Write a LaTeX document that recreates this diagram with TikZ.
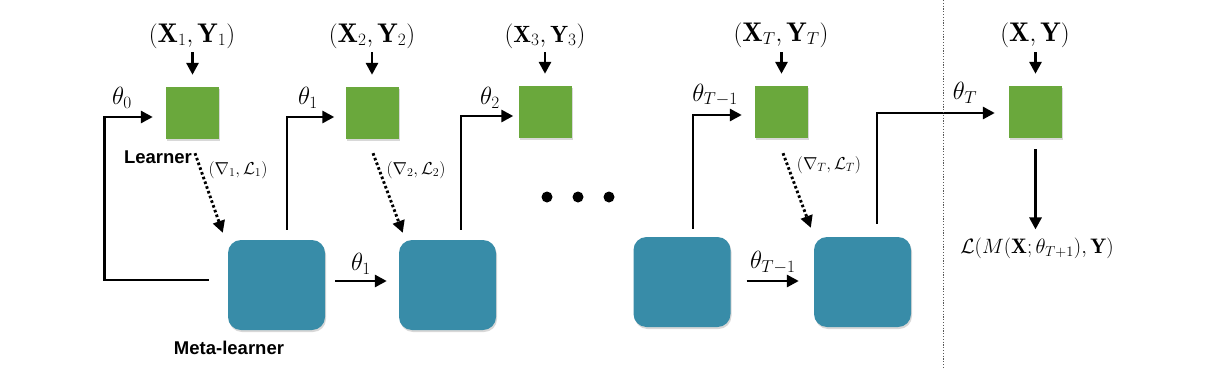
\documentclass[tikz,border=0pt]{standalone}
\usepackage{fontspec}
\newfontfamily\labfont{Liberation Sans}
\usetikzlibrary{arrows.meta,shadows}
\definecolor{lgreen}{RGB}{106,168,60}
\definecolor{mblue}{RGB}{56,140,168}
\begin{document}
\begin{tikzpicture}[x=1pt,y=-1pt,
  learner/.style={fill=lgreen, minimum width=53pt, minimum height=52pt, inner sep=0pt,
    drop shadow={shadow xshift=1pt, shadow yshift=-2pt, opacity=0.3, fill=gray}},
  meta/.style={fill=mblue, rounded corners=13pt, minimum width=97pt, minimum height=90pt, inner sep=0pt,
    drop shadow={shadow xshift=1pt, shadow yshift=-2pt, opacity=0.3, fill=gray}},
  tip/.style={-{Triangle[length=12pt,width=12pt]}},
  arr/.style={line width=2.9pt, tip},
  dotarr/.style={line width=2.9pt, dash pattern=on 2.6pt off 2.4pt, tip},
  big/.style={inner sep=0pt, font=\fontsize{27}{32}\selectfont},
  mid/.style={inner sep=0pt, font=\fontsize{23.5}{28}\selectfont},
  res/.style={inner sep=0pt, font=\fontsize{21}{25}\selectfont},
  small/.style={inner sep=0pt, font=\fontsize{17}{20}\selectfont},
  sans/.style={inner sep=0pt, font=\labfont\bfseries\fontsize{18.5}{22}\selectfont},
  dot/.style={circle, fill=black, minimum size=11pt, inner sep=0pt}
]
\fill[white] (0,0) rectangle (1220,367);
\useasboundingbox (0,0) rectangle (1220,367);

% learners
\node[learner] (l1) at (192.5,113) {};
\node[learner] (l2) at (372,113) {};
\node[learner] (l3) at (545,112) {};
\node[learner] (lT) at (781.5,112) {};
\node[learner] (lF) at (1035.5,112) {};

% meta-learners
\node[meta] (m1) at (276.5,285) {};
\node[meta] (m2) at (447.5,285) {};
\node[meta] (m3) at (682,282) {};
\node[meta] (mT) at (862.5,282) {};

% data labels
\node[big] (d1) at (192,36) {$(\mathbf{X}_1,\mathbf{Y}_1)$};
\node[big] (d2) at (372,36) {$(\mathbf{X}_2,\mathbf{Y}_2)$};
\node[mid] (d3) at (545,36) {$(\mathbf{X}_3,\mathbf{Y}_3)$};
\node[big] (dT) at (781,35) {$(\mathbf{X}_T,\mathbf{Y}_T)$};
\node[big] (dF) at (1035,35) {$(\mathbf{X},\mathbf{Y})$};
\foreach \d/\l in {d1/l1,d2/l2,d3/l3,dT/lT,dF/lF}{
  \draw[arr] (\l.north |- 0,52) -- ([yshift=12pt]\l.north);
}

% theta labels
\node[big] (t0) at (122,98) {$\theta_0$};
\node[big] (t1) at (308,98) {$\theta_1$};
\node[big] (t2) at (490,98) {$\theta_2$};
\node[big] (tT1) at (715,95) {$\theta_{T-1}$};
\node[big] (tT) at (965,93) {$\theta_T$};

% loop from first meta-learner
\draw[arr] ([xshift=-19pt,yshift=5pt]m1.west) -- ++(-104,0) |- ([xshift=-13pt,yshift=-4pt]l1.west);
% meta -> next learner
\draw[arr] ([xshift=10.5pt,yshift=10pt]m1.north) |- ([xshift=-11pt,yshift=-4pt]l2.west);
\draw[arr] ([xshift=13.5pt,yshift=10pt]m2.north) |- ([xshift=-5pt,yshift=-4pt]l3.west);
\draw[arr] ([xshift=11pt,yshift=8pt]m3.north) |- ([xshift=-13pt,yshift=-3pt]lT.west);
\draw[arr] ([xshift=14.5pt,yshift=13pt]mT.north) |- ([xshift=-14pt,yshift=-1pt]lF.west);

% meta -> meta
\draw[arr] ([xshift=10pt,yshift=4pt]m1.east) -- ([xshift=-12pt,yshift=4pt]m2.west)
  node[midway, above=5pt, big] (tm1) {$\theta_1$};
\draw[arr] ([xshift=16pt,yshift=1pt]m3.east) -- ([xshift=-15pt,yshift=1pt]mT.west)
  node[midway, above=6pt, big] (tm2) {$\theta_{T-1}$};

% gradient dotted arrows
\draw[dotarr] ([xshift=2.5pt,yshift=-14pt]l1.south) -- ([xshift=-5pt,yshift=7pt]m1.north west);
\draw[dotarr] ([xshift=1pt,yshift=-14pt]l2.south) -- ([xshift=4pt,yshift=7pt]m2.north west);
\draw[dotarr] ([xshift=1.5pt,yshift=-15pt]lT.south) -- ([xshift=-3pt,yshift=9pt]mT.north west);
\node[small] (g1) at (238,170) {$(\nabla_1,\mathcal{L}_1)$};
\node[small] (g2) at (416,170) {$(\nabla_2,\mathcal{L}_2)$};
\node[small] (gT) at (829,165) {$(\nabla_T,\mathcal{L}_T)$};

% text labels
\node[sans] (lab1) at (158,157) {Learner};
\node[sans] (lab2) at (229,348) {Meta-learner};

% ellipsis dots
\node[dot] (e1) at (547,197) {};
\node[dot] (e2) at (578,197) {};
\node[dot] (e3) at (609,197) {};

% separator
\draw[gray!70!black, line width=1pt, dash pattern=on 1.2pt off 1.6pt] (943,0) -- (943,367);

% final output
\node[res] (out) at (1037,248) {$\mathcal{L}(M(\mathbf{X};\theta_{T+1}),\mathbf{Y})$};
\draw[arr] ([yshift=-11pt]lF.south) -- ([yshift=8pt]lF.south |- out.north);
\end{tikzpicture}
\end{document}
